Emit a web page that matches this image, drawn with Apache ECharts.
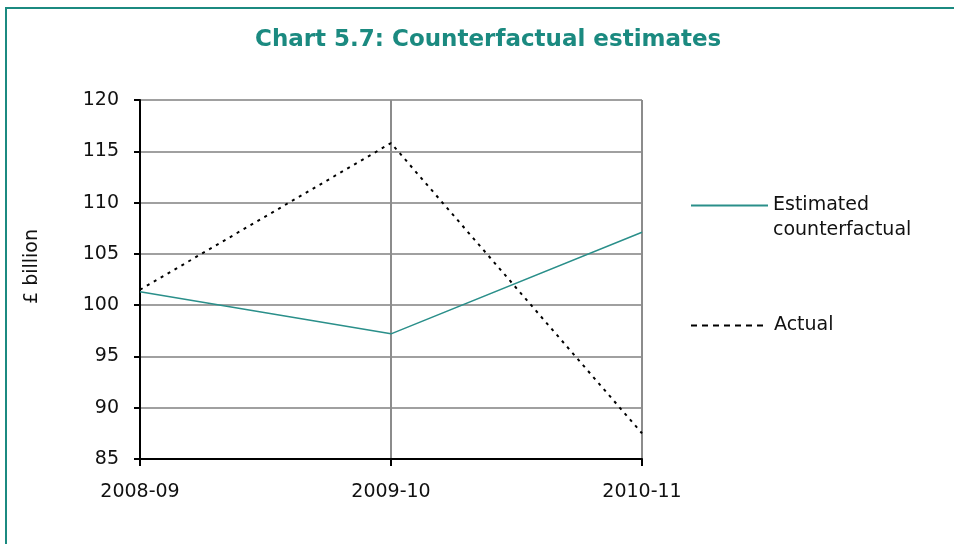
<!DOCTYPE html>
<html>
<head>
<meta charset="utf-8">
<script src="https://cdn.jsdelivr.net/npm/echarts@6/dist/echarts.min.js"></script>
<style>
  body { margin: 0; background: #fff; }
  #frame { position: absolute; left: 5px; top: 7px; width: 960px; height: 560px;
           border-top: 2px solid #1b8a80; border-left: 2px solid #1b8a80; }
  #main { position: absolute; left: 0; top: 0; width: 954px; height: 544px; }
</style>
</head>
<body>
<div id="frame"></div>
<div id="main"></div>
<script>
var years = ['2008-09', '2009-10', '2010-11'];
var estimated = [101.3, 97.2, 107.1];   // Estimated counterfactual
var actual = [101.5, 115.8, 87.5];      // Actual
var yTicks = { min: 85, max: 120, step: 5 };

var fontName = '"DejaVu Sans", Verdana, sans-serif';

var option = {
    animation: false,
    title: {
        text: 'Chart 5.7: Counterfactual estimates',
        left: 250,
        top: 24,
        textStyle: { color: '#1b8a80', fontSize: 23, fontWeight: 'bold', fontFamily: fontName }
    },
    grid: { left: 140, right: 312, top: 100, bottom: 85 },
    legend: [{
        data: ['Estimated counterfactual'],
        left: 690, top: 168,
        padding: 0,
        itemWidth: 77, itemHeight: 14,
        itemStyle: { opacity: 0 },
        lineStyle: { width: 2 },
        // blank first line keeps "Estimated" level with the line icon
        formatter: function () { return '\nEstimated\ncounterfactual'; },
        textStyle: { fontSize: 19, color: '#111', fontFamily: fontName, lineHeight: 25 }
    }, {
        data: ['Actual'],
        left: 690, top: 313,
        padding: 0,
        itemWidth: 73, itemHeight: 14,
        itemStyle: { opacity: 0 },
        lineStyle: { width: 2, type: [6, 5] },
        textStyle: { fontSize: 19, color: '#111', fontFamily: fontName, lineHeight: 25, padding: [0, 0, 0, 5] }
    }],
    xAxis: {
        type: 'category',
        data: years,
        boundaryGap: false,
        axisLine: { lineStyle: { color: '#000', width: 2 } },
        axisTick: { show: true, length: 7, lineStyle: { color: '#000', width: 2 } },
        axisLabel: { color: '#111', fontSize: 19, fontFamily: fontName, margin: 24 },
        splitLine: { show: true, lineStyle: { color: '#8c8c8c', width: 2 } }
    },
    yAxis: {
        type: 'value',
        min: yTicks.min, max: yTicks.max, interval: yTicks.step,
        name: '£ billion',
        nameLocation: 'middle',
        nameGap: 98,
        nameTextStyle: { fontSize: 19, color: '#111', fontFamily: fontName, padding: [0, 0, 0, 26] },
        axisLine: { show: true, lineStyle: { color: '#000', width: 2 } },
        axisTick: { show: true, length: 6, lineStyle: { color: '#000', width: 2 } },
        axisLabel: { color: '#111', fontSize: 19, fontFamily: fontName, margin: 21 },
        splitLine: { show: true, lineStyle: { color: '#a0a0a0', width: 2 } }
    },
    series: [{
        name: 'Estimated counterfactual',
        type: 'line',
        data: estimated,
        symbol: 'none',
        lineStyle: { color: '#2a8f8a', width: 1.5 },
        itemStyle: { color: '#2a8f8a' }
    }, {
        name: 'Actual',
        type: 'line',
        data: actual,
        symbol: 'none',
        lineStyle: { color: '#000', width: 2, type: [3, 5] },
        itemStyle: { color: '#000' }
    }]
};

var chart = echarts.init(document.getElementById('main'));
chart.setOption(option);
</script>
</body>
</html>
